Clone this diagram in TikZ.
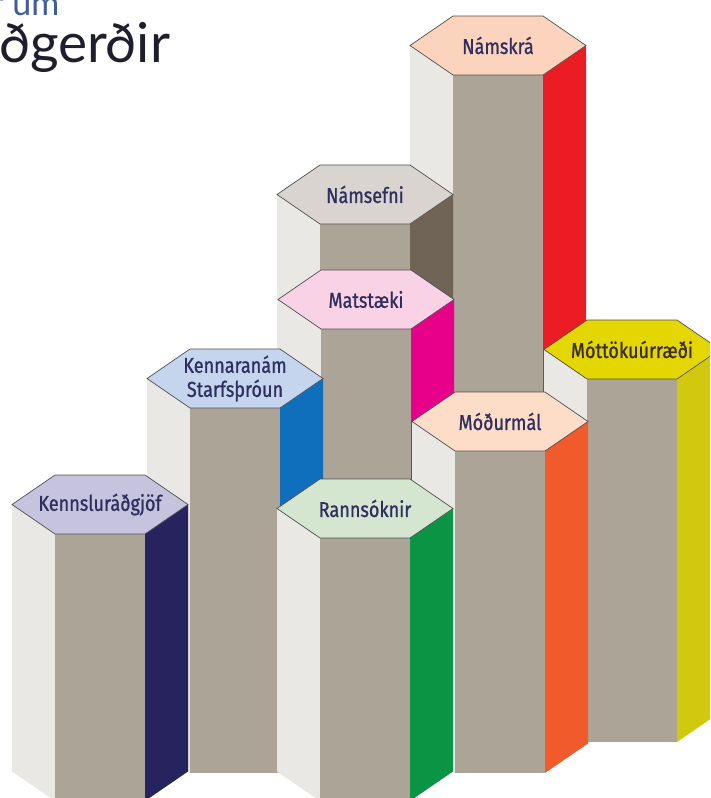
\documentclass[tikz,border=0pt]{standalone}
\usepackage{fontspec}
\newfontfamily\lblfont[FakeStretch=0.84,FakeBold=0.9]{Fira Sans}
\newfontfamily\ttlfont{Lato}
\definecolor{frontgray}{HTML}{ABA497}
\definecolor{leftgray}{HTML}{E9E8E4}
\definecolor{edgegray}{HTML}{505050}
\definecolor{txtnavy}{HTML}{2E2F5E}
\definecolor{txtbrown}{HTML}{3C2D1E}
\definecolor{ttlblue}{HTML}{3F5C9E}
\definecolor{ttldark}{HTML}{1E1E2C}
\definecolor{topA}{HTML}{FCD3BD}\definecolor{sideA}{HTML}{EC1C24}
\definecolor{topB}{HTML}{D9D4CF}\definecolor{sideB}{HTML}{6F6456}
\definecolor{topC}{HTML}{F9D2E6}\definecolor{sideC}{HTML}{E7008A}
\definecolor{topD}{HTML}{C5D5EE}\definecolor{sideD}{HTML}{0F6FBD}
\definecolor{topE}{HTML}{E4D600}\definecolor{sideE}{HTML}{D2C90E}
\definecolor{topF}{HTML}{FDDCC8}\definecolor{sideF}{HTML}{F15A2B}
\definecolor{topG}{HTML}{C5C3DD}\definecolor{sideG}{HTML}{26235F}
\definecolor{topH}{HTML}{D4E6D0}\definecolor{sideH}{HTML}{0B9444}
\tikzset{
  hexlabel/.style={font=\lblfont\fontsize{21.5}{24}\selectfont, text=txtnavy, align=center, inner sep=0pt},
  hexedge/.style={draw=edgegray, line width=0.7pt, line join=miter},
}
% #1 left x, #2 top y, #3 front bottom y, #4 top colour, #5 side colour, #6 node name, #7 label
\newcommand\hexprism[7]{%
  \fill[leftgray] (#1,{#2+29.5}) -- ({#1+43},{#2+59}) -- ({#1+43},#3) -- (#1,{#3-29.5}) -- cycle;
  \fill[frontgray] ({#1+43},{#2+59}) -- ({#1+133},{#2+59}) -- ({#1+133},#3) -- ({#1+43},#3) -- cycle;
  \fill[#5] ({#1+133},{#2+59}) -- ({#1+176},{#2+29.5}) -- ({#1+176},{#3-29.5}) -- ({#1+133},#3) -- cycle;
  \filldraw[hexedge, fill=#4] (#1,{#2+29.5}) -- ({#1+43},#2) -- ({#1+133},#2) -- ({#1+176},{#2+29.5})
     -- ({#1+133},{#2+59}) -- ({#1+43},{#2+59}) -- cycle;
  \node[hexlabel] (#6) at ({#1+88},{#2+29.5}) {#7};
}
\begin{document}
\begin{tikzpicture}[x=1pt,y=-1pt]
\useasboundingbox (0,0) rectangle (710,798);
\clip (0,0) rectangle (710,798);
\node[anchor=base west, inner sep=0pt, text=ttlblue, font=\ttlfont\fontsize{34}{38}\selectfont] (t1) at (-9,15) {r um};
\node[anchor=base west, inner sep=0pt, text=ttldark, font=\ttlfont\fontsize{55}{60}\selectfont] (t2) at (-1,62) {ðgerðir};
\hexprism{410}{16}{700}{topA}{sideA}{namskra}{Námskrá}
\hexprism{277}{165}{620}{topB}{sideB}{namsefni}{Námsefni}
\hexprism{278}{270}{700}{topC}{sideC}{matstaeki}{Matstæki}
\hexprism{147}{349}{773}{topD}{sideD}{kennaranam}{Kennaranám\\Starfsþróun}
\hexprism{544}{320}{742}{topE}{sideE}{mottoku}{\textcolor{txtbrown}{Móttökuúrræði}}
\hexprism{412}{392}{773}{topF}{sideF}{modurmal}{Móðurmál}
\hexprism{12}{475}{801}{topG}{sideG}{kennslu}{Kennsluráðgjöf}
\hexprism{277}{479}{801}{topH}{sideH}{rannsoknir}{Rannsóknir}
\end{tikzpicture}
\end{document}
